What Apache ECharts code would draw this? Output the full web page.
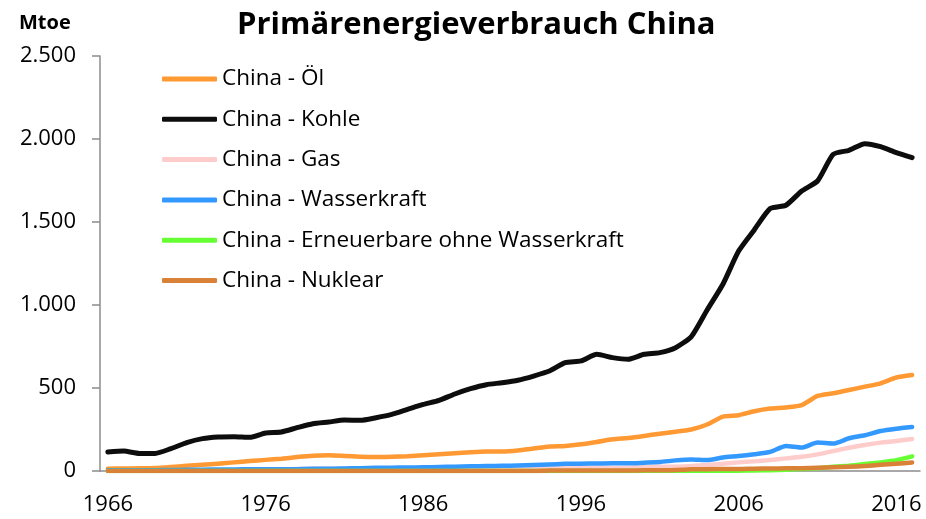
<!DOCTYPE html>
<html>
<head>
<meta charset="utf-8">
<script src="https://cdn.jsdelivr.net/npm/echarts@6/dist/echarts.min.js"></script>
<style>
  html, body { margin: 0; padding: 0; background: #fff; }
  #chart { width: 926px; height: 519px; }
</style>
</head>
<body>
<div id="chart"></div>
<script>
// Primärenergieverbrauch China, Mtoe, 1966-2017
var years = [
  "1966","1967","1968","1969","1970","1971","1972","1973","1974","1975",
  "1976","1977","1978","1979","1980","1981","1982","1983","1984","1985",
  "1986","1987","1988","1989","1990","1991","1992","1993","1994","1995",
  "1996","1997","1998","1999","2000","2001","2002","2003","2004","2005",
  "2006","2007","2008","2009","2010","2011","2012","2013","2014","2015",
  "2016","2017"
];
var oil = [
  14, 15, 16, 18, 24, 31, 37, 44, 52, 60,
  67, 74, 84, 92, 95, 91, 86, 84, 86, 89,
  95, 101, 107, 113, 117, 117, 123, 135, 147, 151,
  161, 175, 191, 199, 211, 225, 237, 250, 280, 328,
  336, 360, 376, 383, 397, 452, 468, 488, 508, 528,
  563, 578
];
var coal = [
  114, 120, 106, 106, 135, 171, 195, 205, 207, 203,
  229, 235, 261, 285, 295, 307, 305, 321, 341, 371,
  401, 426, 464, 496, 520, 532, 547, 572, 602, 653,
  663, 703, 683, 673, 703, 713, 743, 810, 970, 1125,
  1325, 1454, 1581, 1601, 1687, 1747, 1908, 1932, 1972, 1954,
  1918, 1888
];
var gas = [
  1, 1, 1, 2, 2, 3, 3, 4, 5, 7,
  9, 10, 12, 13, 13, 12, 11, 11, 11, 12,
  12, 12, 13, 13, 14, 14, 14, 15, 15, 16,
  17, 18, 18, 19, 22, 25, 26, 30, 36, 44,
  52, 58, 66, 76, 86, 100, 120, 140, 157, 171,
  181, 193
];
var hydro = [
  5, 5, 5, 5, 6, 7, 8, 9, 9, 11,
  11, 10, 11, 13, 13, 15, 17, 19, 20, 21,
  22, 24, 26, 28, 30, 31, 33, 36, 39, 43,
  44, 45, 47, 46, 50, 54, 64, 70, 66, 81,
  90, 101, 115, 151, 141, 171, 165, 197, 215, 241,
  255, 265
];
var renewables = [
  0, 0, 0, 0, 0, 0, 0, 0, 0, 0,
  0, 0, 0, 0, 0, 0, 0, 0, 0, 0,
  0, 0, 0, 0, 0, 0, 0, 0, 0, 0,
  0, 0, 0, 0, 1, 1, 1, 1, 1, 2,
  2, 3, 5, 8, 12, 17, 25, 32, 42, 52,
  65, 88
];
var nuclear = [
  0, 0, 0, 0, 0, 0, 0, 0, 0, 0,
  0, 0, 0, 0, 0, 0, 0, 0, 0, 0,
  0, 0, 0, 0, 0, 0, 0, 0, 3, 3,
  3, 3, 3, 3, 4, 4, 6, 10, 11, 12,
  12, 14, 15, 16, 17, 20, 22, 25, 30, 37,
  44, 51
];
var seriesNames = [
  "China - Öl", "China - Kohle", "China - Gas", "China - Wasserkraft",
  "China - Erneuerbare ohne Wasserkraft", "China - Nuklear"
];
var seriesColors = ["#FF9933", "#0D0D0D", "#FFCCCC", "#3399FF", "#66FF33", "#DA8138"];
var seriesWidths = [4.5, 5, 4.5, 4.5, 4.5, 4.5];
var seriesData = [oil, coal, gas, hydro, renewables, nuclear];

(function () {
  "use strict";
  var FONT = "'Open Sans', sans-serif";
  var AXIS = "#8C8C8C";

  function fmtDe(v) {
    return String(v).replace(/\B(?=(\d{3})+(?!\d))/g, ".");
  }

  var chart = echarts.init(document.getElementById("chart"), null, { renderer: "canvas" });

  var series = seriesNames.map(function (name, i) {
    return {
      name: name,
      type: "line",
      data: seriesData[i],
      smooth: 0.2,
      showSymbol: false,
      symbol: "none",
      lineStyle: { color: seriesColors[i], width: seriesWidths[i], cap: "round", join: "round" },
      itemStyle: { color: seriesColors[i] },
      z: 2 + i,
      animation: false
    };
  });

  chart.setOption({
    backgroundColor: "#fff",
    textStyle: { fontFamily: FONT },
    title: {
      text: "Primärenergieverbrauch China",
      left: 237, top: 10, padding: 0,
      textStyle: { fontFamily: FONT, fontSize: 31, fontWeight: "bold", color: "#000" }
    },
    graphic: [{
      type: "text", left: 19, top: 13,
      style: { text: "Mtoe", fontFamily: FONT, fontSize: 20, fontWeight: "bold", fill: "#000" }
    }],
    legend: {
      orient: "vertical",
      left: 162, top: 66, padding: 0,
      icon: "roundRect",
      itemWidth: 55, itemHeight: 5,
      itemGap: 14.3,
      textStyle: { fontFamily: FONT, fontSize: 22.5, color: "#000", lineHeight: 26, padding: [0, 0, 0, 0] },
      data: seriesNames
    },
    grid: { left: 100, right: 6, top: 56, bottom: 48, containLabel: false },
    xAxis: {
      type: "category",
      data: years,
      boundaryGap: true,
      axisLine: { lineStyle: { color: AXIS, width: 1.5 } },
      axisTick: { interval: 4, length: 6, lineStyle: { color: AXIS, width: 1.5 } },
      axisLabel: { interval: 9, margin: 23, fontFamily: FONT, fontSize: 22, color: "#000" },
      splitLine: { show: false }
    },
    yAxis: {
      type: "value",
      min: 0, max: 2500, interval: 500,
      axisLine: { show: true, lineStyle: { color: AXIS, width: 1.5 } },
      axisTick: { show: true, length: 8, lineStyle: { color: AXIS, width: 1.5 } },
      axisLabel: { margin: 24, fontFamily: FONT, fontSize: 22, color: "#000", formatter: fmtDe },
      splitLine: { show: false }
    },
    series: series,
    animation: false
  });
})();
</script>
</body>
</html>
